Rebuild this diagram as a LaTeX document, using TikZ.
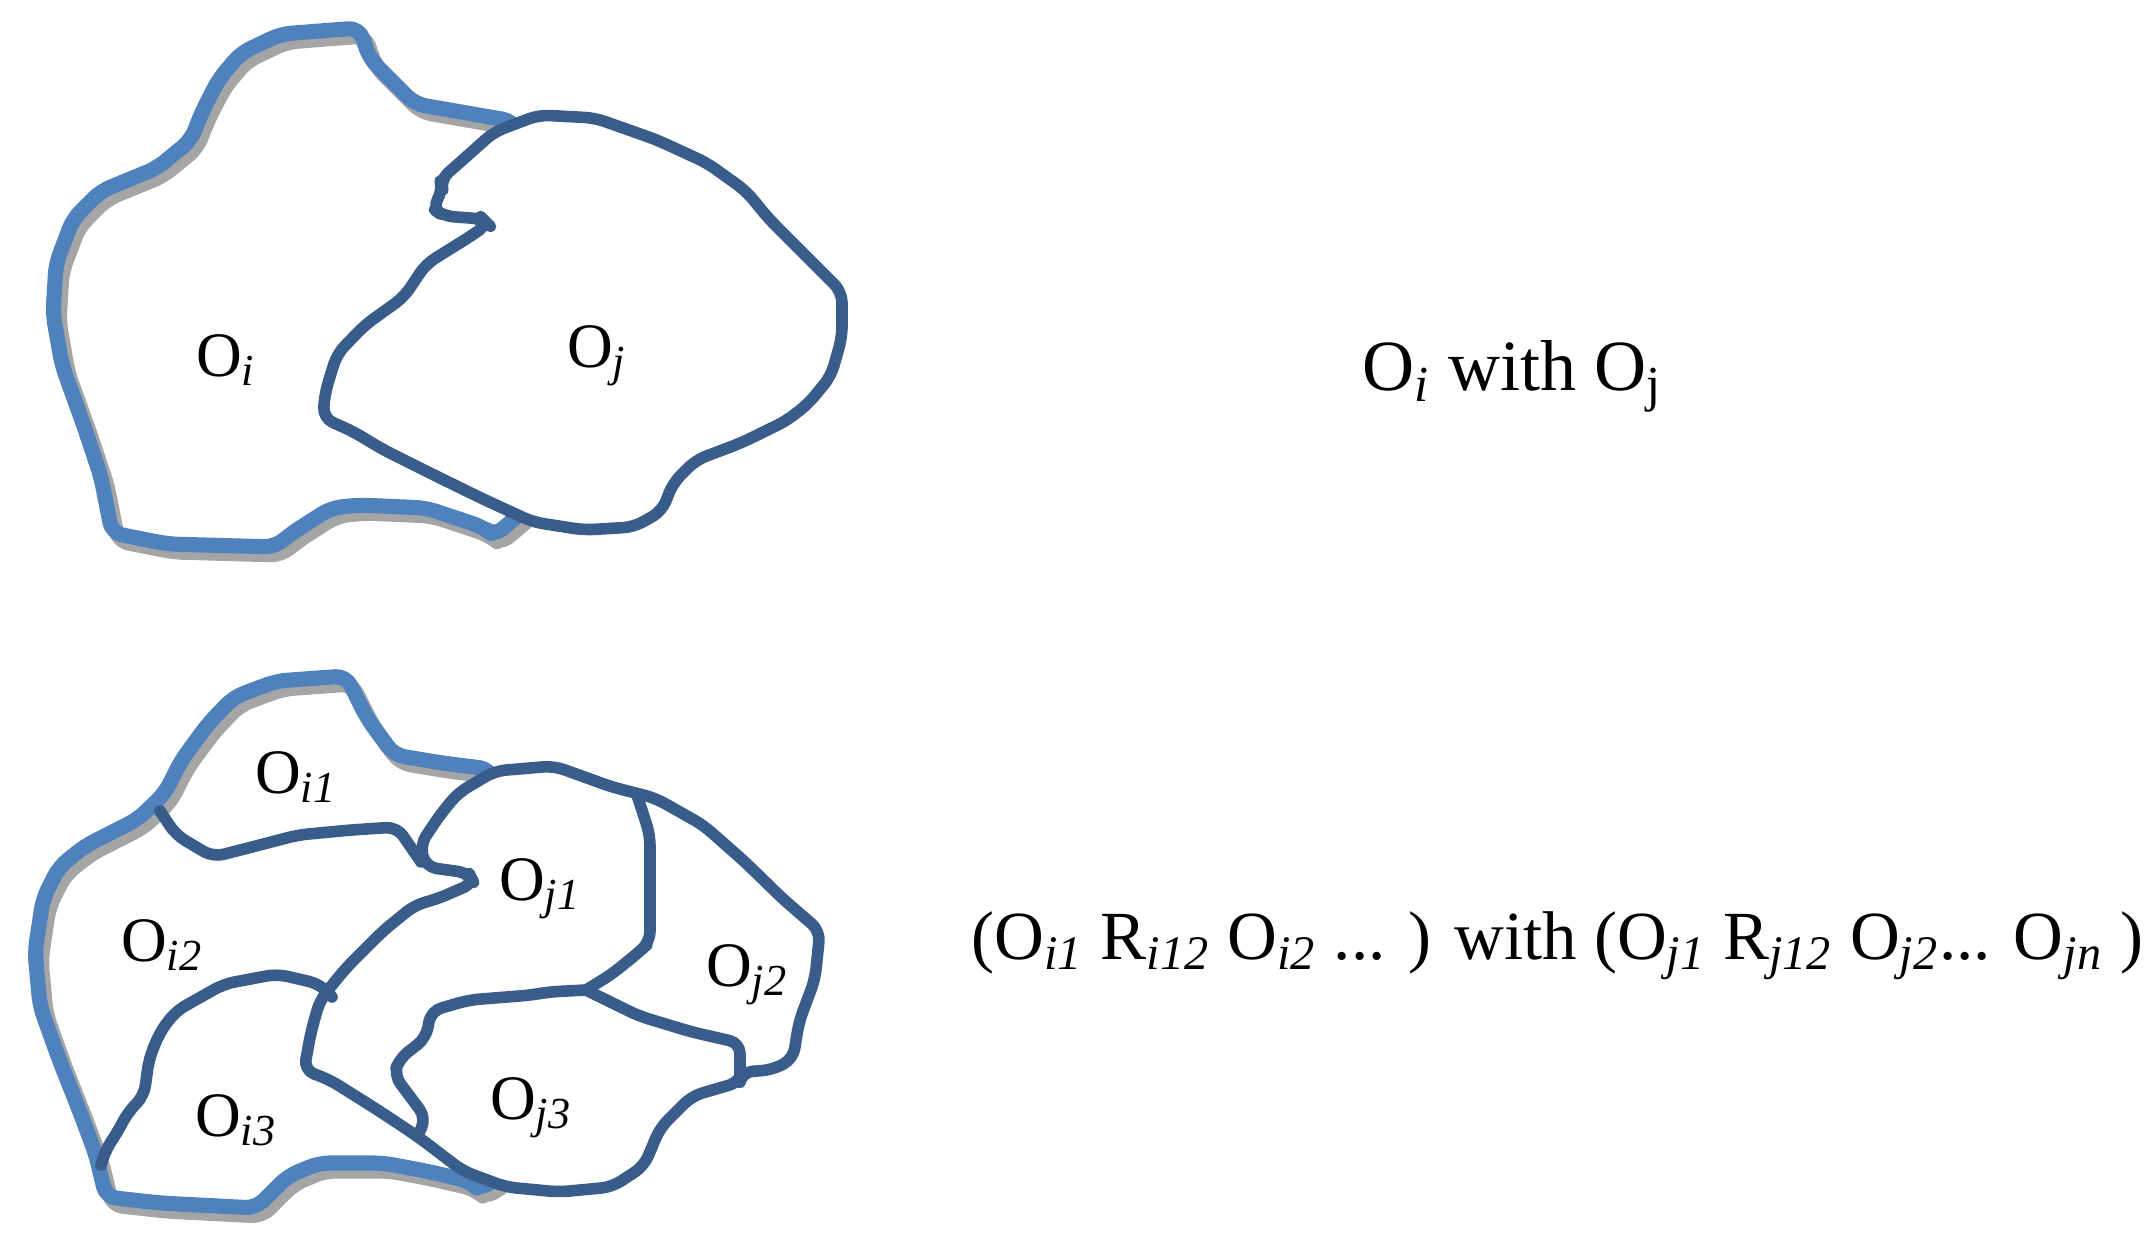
\documentclass[tikz,border=0pt]{standalone}
\usepackage{fontspec}
\setmainfont{Liberation Serif}
\usepackage{tikz}
\definecolor{outerblue}{HTML}{4F81BD}
\definecolor{partblue}{HTML}{385D8A}
\definecolor{shadegrey}{HTML}{A5A5A5}
\tikzstyle{outline} = [line width=4.3pt, line join=round, line cap=round, rounded corners=3pt]
\tikzstyle{part} = [draw=partblue, fill=white, line width=3.3pt, line join=round, rounded corners=3pt]
\tikzstyle{cut} = [draw=partblue, line width=3.3pt, line join=round, line cap=round, rounded corners=3pt]
\tikzstyle{lbl} = [font=\fontsize{18}{20}\selectfont, inner sep=0pt]
\tikzstyle{txt} = [font=\fontsize{20.5}{24}\selectfont, inner sep=0pt, anchor=base west]
\newcommand{\ix}[1]{\textsubscript{\textit{#1}}}

\begin{document}
\begin{tikzpicture}[x=0.01cm, y=-0.01cm]
    \useasboundingbox (0,0) rectangle (2151,1255);

    % top: O_i and O_j
    \foreach \dx/\dy/\col in {6/8/shadegrey, 0/0/outerblue}
        \draw[outline, draw=\col, shift={(\dx,\dy)}]
            (513,121) -- (415,104) -- (370,59) -- (359,28) -- (281,34) -- (241,53) -- (219,79)
            -- (202,112) -- (191,140) -- (157,168) -- (101,191) -- (73,219) -- (56,264) -- (53,314)
            -- (62,365) -- (84,426) -- (101,477) -- (112,533) -- (168,544) -- (275,547) -- (292,533)
            -- (331,508) -- (359,505) -- (426,508) -- (483,527) -- (494,536) -- (560,480)
            -- (600,300) -- cycle;
    \draw[part] (494,132) -- (539,115) -- (595,118) -- (657,140) -- (707,163) -- (746,191)
        -- (769,219) -- (808,258) -- (842,292) -- (842,337) -- (831,376) -- (808,404) -- (786,421)
        -- (741,443) -- (696,460) -- (673,483) -- (662,511) -- (634,527) -- (584,530) -- (533,522)
        -- (483,499) -- (438,477) -- (382,449) -- (354,432) -- (323,418) -- (325,393) -- (337,354)
        -- (365,325) -- (404,297) -- (426,264) -- (471,236) -- (488,224) -- (483,219) -- (443,216)
        -- (432,208) -- (443,191) -- (440,180) -- (466,157) -- cycle;
    \node[lbl] (oi) at (226,360) {O\ix{i}};
    \node[lbl] (oj) at (597,356) {O\ix{j}};
    \node[txt] (pair) at (1362,391) {O\ix{i} with O\textsubscript{j}};

    % bottom: parts of O_i and O_j
    \foreach \dx/\dy/\col in {6/8/shadegrey, 0/0/outerblue}
        \draw[outline, draw=\col, shift={(\dx,\dy)}]
            (490,769) -- (442,763) -- (394,755) -- (367,718) -- (346,676) -- (277,681) -- (234,697)
            -- (208,724) -- (181,761) -- (165,793) -- (138,819) -- (85,846) -- (59,867) -- (43,899)
            -- (35,952) -- (40,1006) -- (59,1059) -- (80,1112) -- (96,1155) -- (106,1197) -- (160,1203)
            -- (256,1208) -- (288,1176) -- (319,1163) -- (383,1163) -- (426,1171) -- (469,1181)
            -- (479,1190) -- (540,1150) -- (560,1000) -- cycle;
    \draw[part] (420,845) -- (440,815) -- (458,793) -- (495,771) -- (554,766) -- (612,787)
        -- (655,798) -- (703,825) -- (745,862) -- (783,899) -- (820,931) -- (815,979) -- (799,1022)
        -- (793,1059) -- (772,1070) -- (742,1072) -- (740,1082) -- (692,1096) -- (660,1128)
        -- (644,1166) -- (612,1187) -- (559,1192) -- (506,1187) -- (463,1171) -- (421,1139)
        -- (405,1128) -- (373,1107) -- (330,1080) -- (304,1070) -- (311,1032) -- (320,1000)
        -- (346,968) -- (383,931) -- (415,905) -- (437,899) -- (474,883) -- (469,873) -- (426,867)
        -- cycle;
    \draw[cut] (160,811) -- (176,835) -- (213,857) -- (256,846) -- (298,835) -- (351,830)
        -- (397,827) -- (410,846) -- (421,862);
    \draw[cut] (101,1165) -- (106,1149) -- (117,1133) -- (128,1112) -- (144,1096) -- (149,1059)
        -- (160,1032) -- (176,1011) -- (224,984) -- (277,974) -- (320,984) -- (332,997);
    \draw[cut] (637,795) -- (650,835) -- (650,883) -- (650,942) -- (639,952) -- (612,974)
        -- (586,990);
    \draw[cut] (586,990) -- (548,992) -- (532,995) -- (469,1000) -- (431,1011) -- (426,1038)
        -- (399,1059) -- (394,1075) -- (426,1118) -- (419,1133);
    \draw[cut] (586,990) -- (639,1016) -- (692,1032) -- (740,1043) -- (740,1082);
    \node[lbl] (oi1) at (296,777) {O\ix{i1}};
    \node[lbl] (oi2) at (162,945) {O\ix{i2}};
    \node[lbl] (oi3) at (236,1120) {O\ix{i3}};
    \node[lbl] (oj1) at (540,889) {O\ix{j1}};
    \node[lbl] (oj2) at (747,975) {O\ix{j2}};
    \node[lbl] (oj3) at (531,1108) {O\ix{j3}};
    \node[txt, font=\fontsize{19.6}{23}\selectfont] (chain) at (971,959) {(O\ix{i1} R\ix{i12} O\ix{i2} ... ) with (O\ix{j1} R\ix{j12} O\ix{j2}... O\ix{jn} )};
\end{tikzpicture}
\end{document}
